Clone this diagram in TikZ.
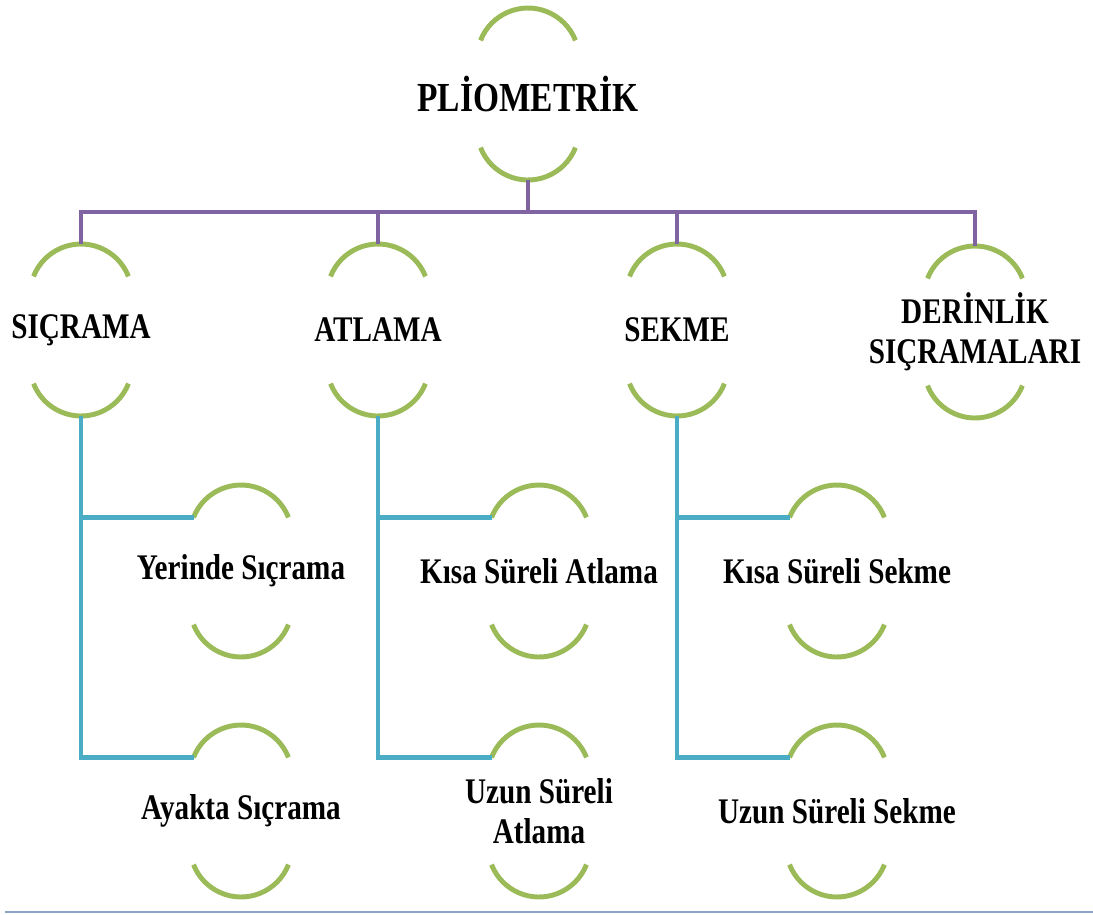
\documentclass[tikz,border=0pt]{standalone}
\usepackage{fontspec}
\setmainfont{Liberation Serif}[FakeStretch=0.81]
\usepackage{xcolor}
\usepackage{tikz}
\usetikzlibrary{calc}

\definecolor{arcgreen}{HTML}{9BBB59}
\definecolor{buspurple}{HTML}{8064A2}
\definecolor{branchteal}{HTML}{4BACC6}
\definecolor{rulegray}{HTML}{8EA2C8}

\begin{document}
\begin{tikzpicture}[
    x=0.02cm, y=-0.02cm,
    term/.style={font=\fontsize{20.5}{23}\selectfont\bfseries, align=center, inner sep=0pt},
    ring/.style={draw=arcgreen, line width=2.8pt},
    bus/.style={draw=buspurple, line width=2.8pt},
    branch/.style={draw=branchteal, line width=2.8pt},
]
\useasboundingbox (0,0) rectangle (1093,914);

\node[term, font=\fontsize{23.5}{26}\selectfont\bfseries] (plio) at (528,94) {PLİOMETRİK};

\node[term] (sic) at (81,330)  {SIÇRAMA};
\node[term] (atl) at (378,330) {ATLAMA};
\node[term] (sek) at (677,330) {SEKME};
\node[term] (der) at (975,332) {DERİNLİK\\SIÇRAMALARI};

\node[term] (yer)  at (241,571) {Yerinde Sıçrama};
\node[term] (kat)  at (539,571) {Kısa Süreli Atlama};
\node[term] (kse)  at (837,571) {Kısa Süreli Sekme};
\node[term] (aya)  at (241,811) {Ayakta Sıçrama};
\node[term] (uat)  at (539,811) {Uzun Süreli\\Atlama};
\node[term] (uzse) at (837,811) {Uzun Süreli Sekme};

% arcs above and below each term
\foreach \n in {plio,sic,atl,sek,der,yer,kat,kse,aya,uat,uzse} {
  \coordinate (\n-top) at ($(\n.center)+(0,-86)$);
  \coordinate (\n-bot) at ($(\n.center)+(0,86)$);
  \coordinate (\n-tl) at ($(\n.center)+(0,-35)+(158.6:1.02cm)$);
  \draw[ring] (\n-tl) arc[start angle=158.6, end angle=21.4, radius=1.02cm];
  \draw[ring] ($(\n.center)+(0,35)+(201.4:1.02cm)$) arc[start angle=201.4, end angle=338.6, radius=1.02cm];
}

\coordinate (fork) at ($(plio-bot)+(0,32)$);
\foreach \n in {sic,atl,sek,der}
  \draw[bus] (plio-bot) -- (fork) -| (\n-top);

\draw[branch] (sic-bot) |- (yer-tl);
\draw[branch] (sic-bot) |- (aya-tl);
\draw[branch] (atl-bot) |- (kat-tl);
\draw[branch] (atl-bot) |- (uat-tl);
\draw[branch] (sek-bot) |- (kse-tl);
\draw[branch] (sek-bot) |- (uzse-tl);

\draw[rulegray, line width=1.2pt] (5,912) -- (1093,912);
\end{tikzpicture}
\end{document}
